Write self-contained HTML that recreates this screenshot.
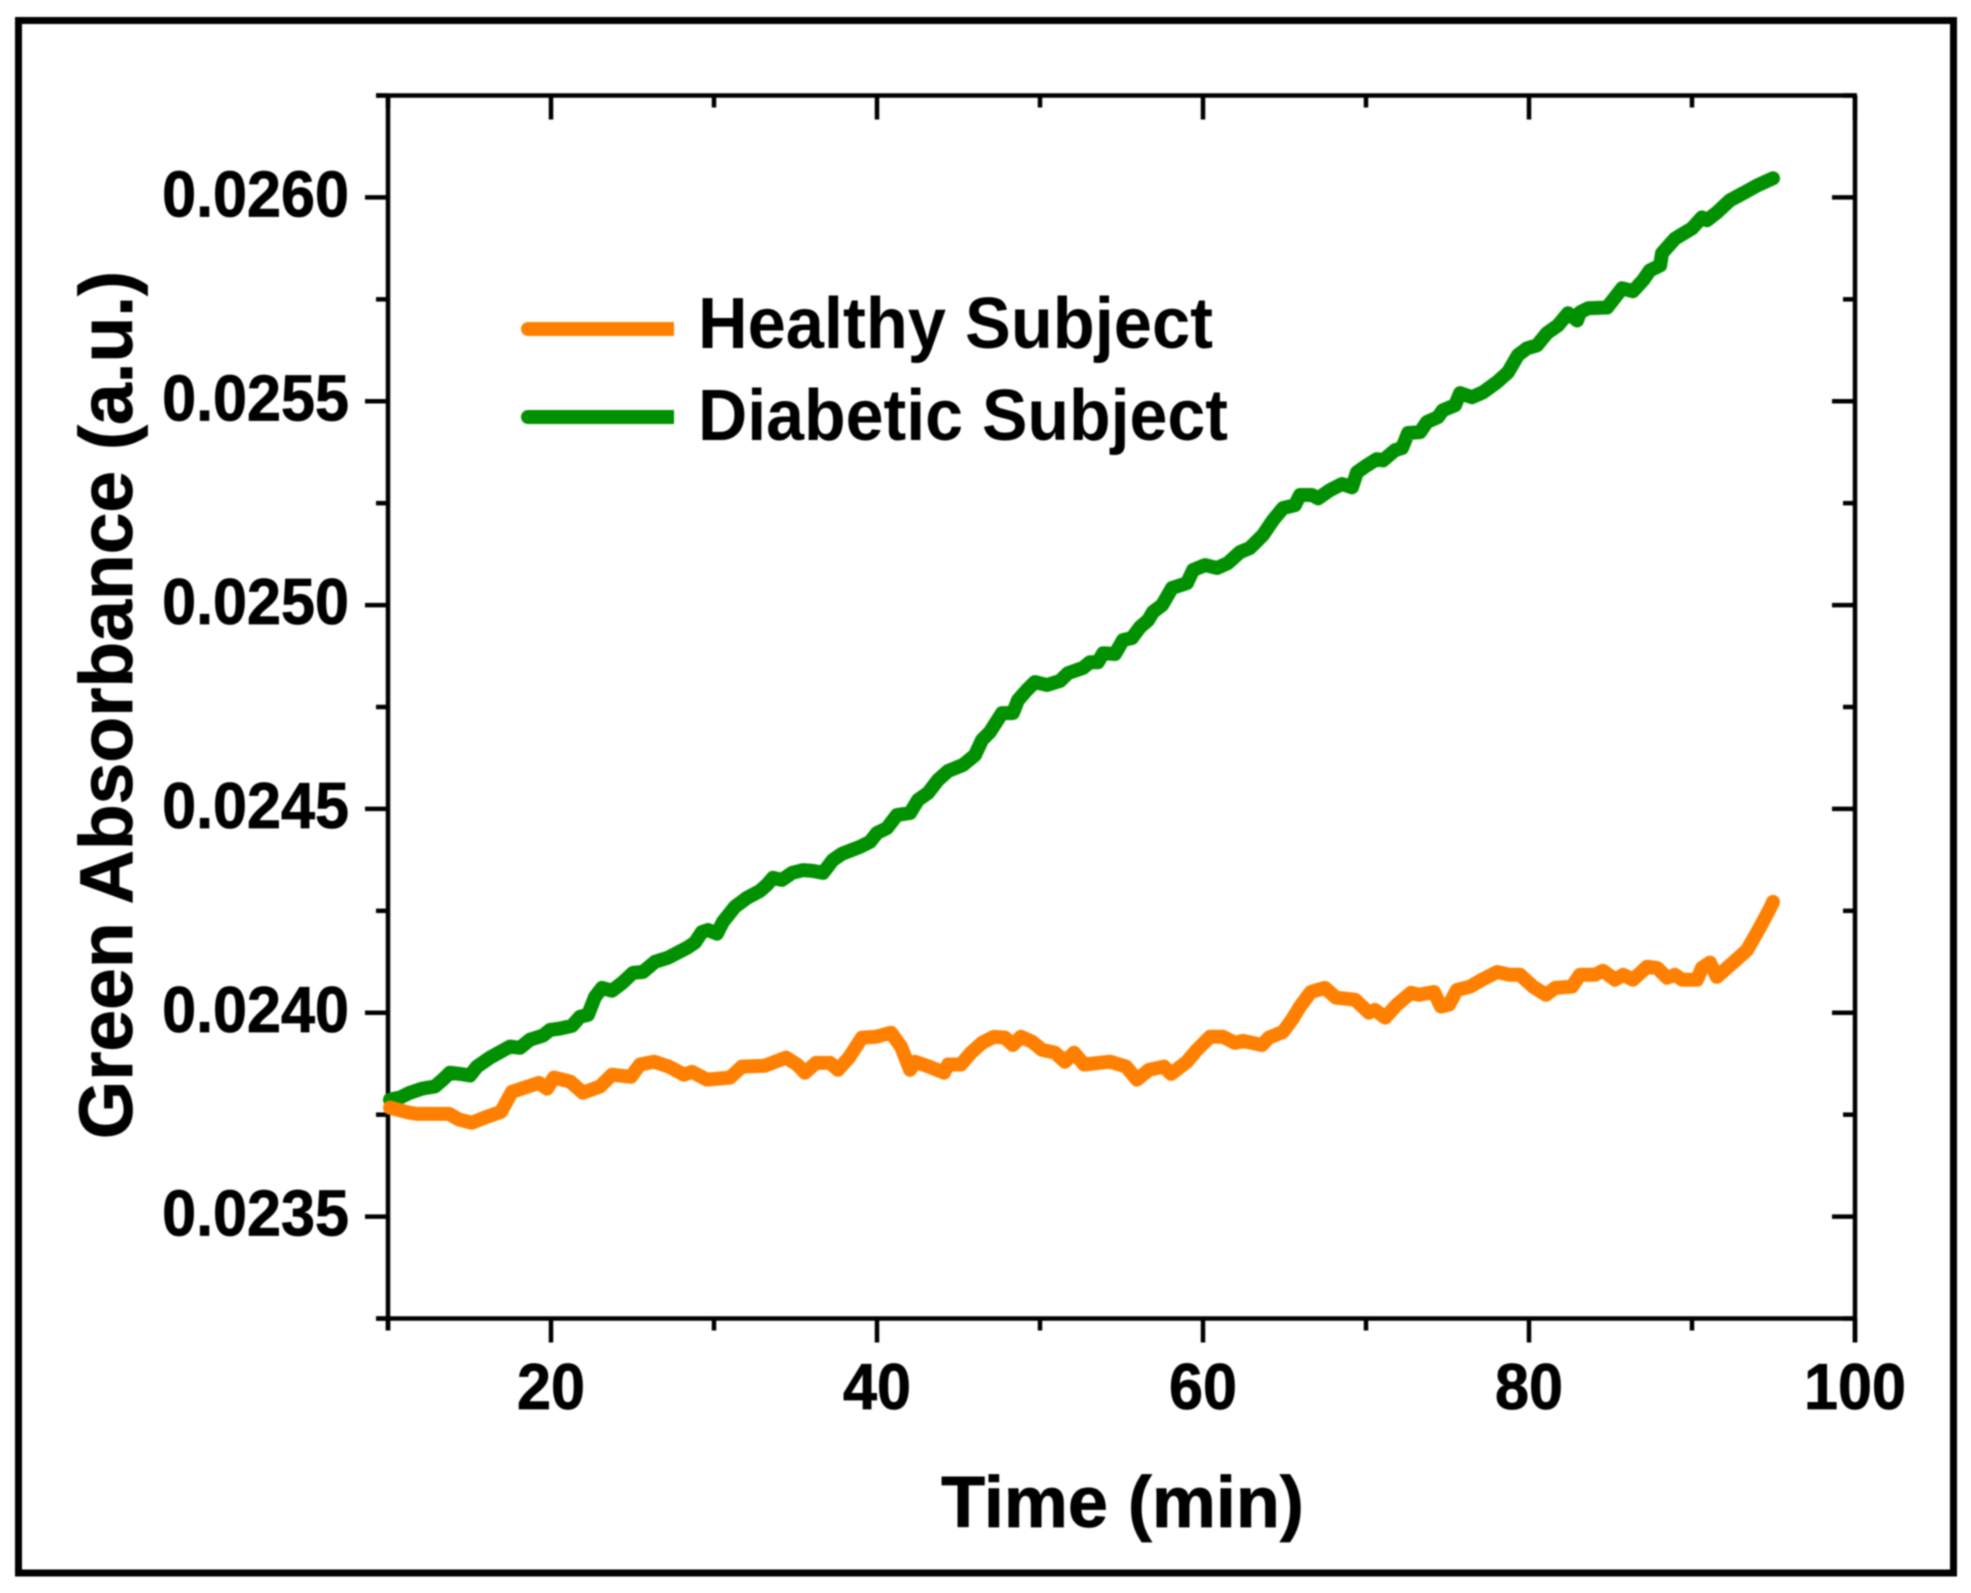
<!DOCTYPE html>
<html lang="en">
<head>
<meta charset="utf-8">
<title>Green Absorbance vs Time</title>
<style>
html,body{margin:0;padding:0;background:#fff;}
svg{display:block;}
text{font-family:"Liberation Sans",Arial,sans-serif;font-weight:bold;fill:#000;}
.heavy{stroke:#000;stroke-width:0.8px;}
</style>
</head>
<body>
<svg id="chart" xmlns="http://www.w3.org/2000/svg" width="1971" height="1593" viewBox="0 0 1971 1593" style="filter:blur(0.9px)">
  <rect x="0" y="0" width="1971" height="1593" fill="#fff"/>
  <rect x="18.5" y="20.5" width="1935" height="1552.5" fill="none" stroke="#000" stroke-width="7"/>
  <g id="axes"></g>
  <g id="series"></g>
  <text class="heavy" transform="translate(132,705) rotate(-90)" text-anchor="middle" font-size="75">Green Absorbance (a.u.)</text>
  <text class="heavy" x="1122.5" y="1527" text-anchor="middle" font-size="72">Time (min)</text>
  <g>
    <path d="M528 329H674" fill="none" stroke="#ff8000" stroke-width="14"/>
    <circle cx="528" cy="329" r="7" fill="#ff8000"/>
    <text x="698" y="348" font-size="72" textLength="515" lengthAdjust="spacingAndGlyphs">Healthy Subject</text>
    <path d="M528 417H674" fill="none" stroke="#009000" stroke-width="14"/>
    <circle cx="528" cy="417" r="7" fill="#009000"/>
    <text x="698" y="440" font-size="72" textLength="530" lengthAdjust="spacingAndGlyphs">Diabetic Subject</text>
  </g>
</svg>
<script>
const xMajorTicks = [20, 40, 60, 80, 100];
const xMinorTicks = [10, 30, 50, 70, 90];
const yMajorTicks = [0.0235, 0.024, 0.0245, 0.025, 0.0255, 0.026];
const yMinorTicks = [0.02325, 0.02375, 0.02425, 0.02475, 0.02525, 0.02575, 0.02625];
const xTickLabels = ["20", "40", "60", "80", "100"];
const yTickLabels = ["0.0235", "0.0240", "0.0245", "0.0250", "0.0255", "0.0260"];

const diabeticTime = [10.12,10.74,11.35,12.09,12.88,13.37,13.80,14.42,15.03,15.46,16.26,17.48,18.10,18.71,19.51,19.94,20.55,21.29,21.78,22.27,22.70,23.13,23.74,24.36,25.03,25.64,26.38,27.18,28.34,28.83,29.26,29.63,30.18,30.55,31.29,32.03,32.82,33.25,33.62,34.17,34.79,35.46,36.07,36.69,37.30,37.85,38.96,39.57,40.00,40.61,41.23,42.03,42.52,43.13,43.74,44.36,45.28,46.01,46.44,46.93,47.67,48.34,48.65,49.20,49.69,50.43,51.23,51.72,52.64,53.07,53.56,53.87,54.60,55.09,55.64,56.14,56.63,56.93,57.49,58.10,59.02,59.39,60.12,60.86,61.53,62.27,62.88,63.68,64.29,64.91,65.64,65.95,66.69,67.06,67.79,68.53,69.14,69.45,70.06,70.67,71.04,71.78,72.21,72.58,73.31,73.74,74.42,74.72,75.46,75.77,76.50,77.18,78.04,78.71,79.32,79.88,80.49,81.10,81.78,82.40,82.95,83.13,83.62,84.79,85.28,85.71,86.38,87.00,87.42,88.04,88.16,88.96,90.00,90.61,90.92,91.53,92.33,93.13,93.98,94.97];
const diabeticAbsorbance = [0.023787,0.023792,0.023804,0.023814,0.023819,0.023836,0.023853,0.023850,0.023846,0.023868,0.023890,0.023917,0.023914,0.023934,0.023944,0.023958,0.023961,0.023968,0.023990,0.023995,0.024039,0.024061,0.024054,0.024073,0.024098,0.024100,0.024125,0.024135,0.024159,0.024172,0.024198,0.024203,0.024194,0.024223,0.024260,0.024282,0.024299,0.024314,0.024331,0.024326,0.024343,0.024350,0.024348,0.024343,0.024375,0.024390,0.024407,0.024419,0.024441,0.024453,0.024485,0.024490,0.024522,0.024539,0.024571,0.024593,0.024608,0.024632,0.024669,0.024689,0.024735,0.024735,0.024767,0.024792,0.024811,0.024804,0.024814,0.024833,0.024846,0.024860,0.024860,0.024882,0.024880,0.024914,0.024919,0.024946,0.024963,0.024983,0.025000,0.025042,0.025054,0.025086,0.025098,0.025091,0.025103,0.025130,0.025140,0.025172,0.025208,0.025238,0.025245,0.025270,0.025270,0.025262,0.025282,0.025297,0.025289,0.025326,0.025343,0.025358,0.025355,0.025380,0.025385,0.025422,0.025424,0.025449,0.025461,0.025478,0.025490,0.025520,0.025510,0.025522,0.025547,0.025571,0.025613,0.025630,0.025637,0.025667,0.025686,0.025716,0.025698,0.025718,0.025728,0.025730,0.025755,0.025777,0.025770,0.025797,0.025821,0.025833,0.025863,0.025899,0.025924,0.025951,0.025944,0.025963,0.025993,0.026010,0.026029,0.026047];

const healthyTime = [10.12,11.29,11.78,13.74,14.36,15.15,15.95,16.93,17.61,18.59,19.26,19.76,20.18,21.17,21.96,23.01,23.74,24.91,25.46,26.32,27.24,28.16,28.65,29.57,30.98,31.72,33.13,34.42,35.09,35.58,36.26,37.12,37.61,38.28,39.08,39.94,40.86,41.47,42.03,42.33,43.19,44.11,44.36,45.15,45.77,46.44,47.18,47.85,48.34,48.83,49.51,50.12,50.92,51.53,52.09,52.70,54.30,55.28,55.95,56.69,57.61,58.04,59.02,59.63,60.43,61.23,61.96,62.45,63.01,63.62,64.05,64.91,65.46,65.95,66.62,67.48,68.16,69.33,70.18,70.55,71.17,71.90,72.76,73.25,74.17,74.60,75.09,75.58,76.38,77.12,78.04,78.83,79.45,80.25,81.04,81.60,82.64,83.13,84.05,84.54,85.28,85.77,86.38,87.24,87.86,88.47,88.96,89.39,90.31,90.61,91.10,91.53,92.52,93.38,94.19,94.80,94.97];
const healthyAbsorbance = [0.023767,0.023755,0.023752,0.023752,0.023738,0.023730,0.023743,0.023757,0.023806,0.023819,0.023828,0.023814,0.023841,0.023831,0.023804,0.023819,0.023848,0.023843,0.023873,0.023880,0.023868,0.023848,0.023855,0.023836,0.023841,0.023868,0.023870,0.023890,0.023873,0.023853,0.023877,0.023877,0.023860,0.023890,0.023939,0.023941,0.023951,0.023917,0.023860,0.023880,0.023868,0.023853,0.023873,0.023873,0.023902,0.023926,0.023941,0.023939,0.023921,0.023941,0.023929,0.023909,0.023902,0.023880,0.023902,0.023873,0.023880,0.023868,0.023836,0.023860,0.023868,0.023850,0.023880,0.023909,0.023941,0.023941,0.023926,0.023931,0.023926,0.023921,0.023939,0.023953,0.023983,0.024015,0.024051,0.024061,0.024037,0.024032,0.024000,0.024007,0.023988,0.024020,0.024049,0.024044,0.024051,0.024015,0.024020,0.024056,0.024064,0.024081,0.024100,0.024093,0.024093,0.024064,0.024044,0.024061,0.024064,0.024093,0.024093,0.024103,0.024081,0.024093,0.024081,0.024113,0.024110,0.024086,0.024093,0.024081,0.024081,0.024110,0.024123,0.024088,0.024123,0.024154,0.024211,0.024257,0.024272];

const SVG_NS = "http://www.w3.org/2000/svg";
const plotLeft = 388, plotRight = 1855, plotTop = 95.5, plotBottom = 1318.5;
const xDomain = [10, 100], yDomain = [0.02325, 0.02625];
const xScale = v => plotLeft + (v - xDomain[0]) / (xDomain[1] - xDomain[0]) * (plotRight - plotLeft);
const yScale = v => plotBottom - (v - yDomain[0]) / (yDomain[1] - yDomain[0]) * (plotBottom - plotTop);
const axes = document.getElementById("axes");
const seriesGroup = document.getElementById("series");

function drawLine(parent, x1, y1, x2, y2) {
  const el = document.createElementNS(SVG_NS, "line");
  el.setAttribute("x1", x1);
  el.setAttribute("y1", y1);
  el.setAttribute("x2", x2);
  el.setAttribute("y2", y2);
  el.setAttribute("stroke", "#000");
  el.setAttribute("stroke-width", "4.5");
  parent.appendChild(el);
  return el;
}
function drawLabel(parent, x, y, anchor, str) {
  const el = document.createElementNS(SVG_NS, "text");
  el.setAttribute("x", x);
  el.setAttribute("y", y);
  el.setAttribute("text-anchor", anchor);
  el.setAttribute("font-size", "65");
  el.setAttribute("class", "heavy");
  el.textContent = str;
  parent.appendChild(el);
  el.setAttribute("textLength", (el.getComputedTextLength() * 0.94).toFixed(1));
  el.setAttribute("lengthAdjust", "spacingAndGlyphs");
  return el;
}

let el;
el = drawLine(axes, plotLeft, plotTop, plotLeft, plotBottom + 12);


el = drawLine(axes, plotRight, plotTop, plotRight, plotBottom + 24);


el = drawLine(axes, plotLeft - 12, plotTop, plotRight + 2, plotTop);


el = drawLine(axes, plotLeft - 12, plotBottom, plotRight + 2, plotBottom);



xMajorTicks.forEach((t, i) => {
  const x = xScale(t);
  let m = drawLine(axes, x, plotBottom, x, plotBottom + 24);
  
  
  m = drawLine(axes, x, plotTop, x, plotTop + 24);
  
  
  const lab = drawLabel(axes, x, 1409, "middle", xTickLabels[i]);
  
  
});
xMinorTicks.forEach(t => {
  const x = xScale(t);
  let m = drawLine(axes, x, plotBottom, x, plotBottom + 12);
  
  
  m = drawLine(axes, x, plotTop, x, plotTop + 12);
  
  
});
yMajorTicks.forEach((v, i) => {
  const y = yScale(v);
  let m = drawLine(axes, plotLeft - 23, y, plotLeft, y);
  
  
  m = drawLine(axes, plotRight - 23, y, plotRight, y);
  
  
  const lab = drawLabel(axes, 349, y + 19, "end", yTickLabels[i]);
  
  
});
yMinorTicks.forEach(v => {
  const y = yScale(v);
  let m = drawLine(axes, plotLeft - 12, y, plotLeft, y);
  
  
  m = drawLine(axes, plotRight - 12, y, plotRight, y);
  
  
});

function seriesPoints(times, values) {
  return times.map((t, i) => xScale(t).toFixed(1) + "," + yScale(values[i]).toFixed(1)).join(" ");
}
const greenLine = document.createElementNS(SVG_NS, "polyline");
greenLine.setAttribute("points", seriesPoints(diabeticTime, diabeticAbsorbance));
greenLine.setAttribute("fill", "none");
greenLine.setAttribute("stroke", "#009000");
greenLine.setAttribute("stroke-width", "14");
greenLine.setAttribute("stroke-linejoin", "round");
greenLine.setAttribute("stroke-linecap", "round");


seriesGroup.appendChild(greenLine);

const orangeLine = document.createElementNS(SVG_NS, "polyline");
orangeLine.setAttribute("points", seriesPoints(healthyTime, healthyAbsorbance));
orangeLine.setAttribute("fill", "none");
orangeLine.setAttribute("stroke", "#ff8000");
orangeLine.setAttribute("stroke-width", "14");
orangeLine.setAttribute("stroke-linejoin", "round");
orangeLine.setAttribute("stroke-linecap", "round");


seriesGroup.appendChild(orangeLine);
</script>
</body>
</html>
